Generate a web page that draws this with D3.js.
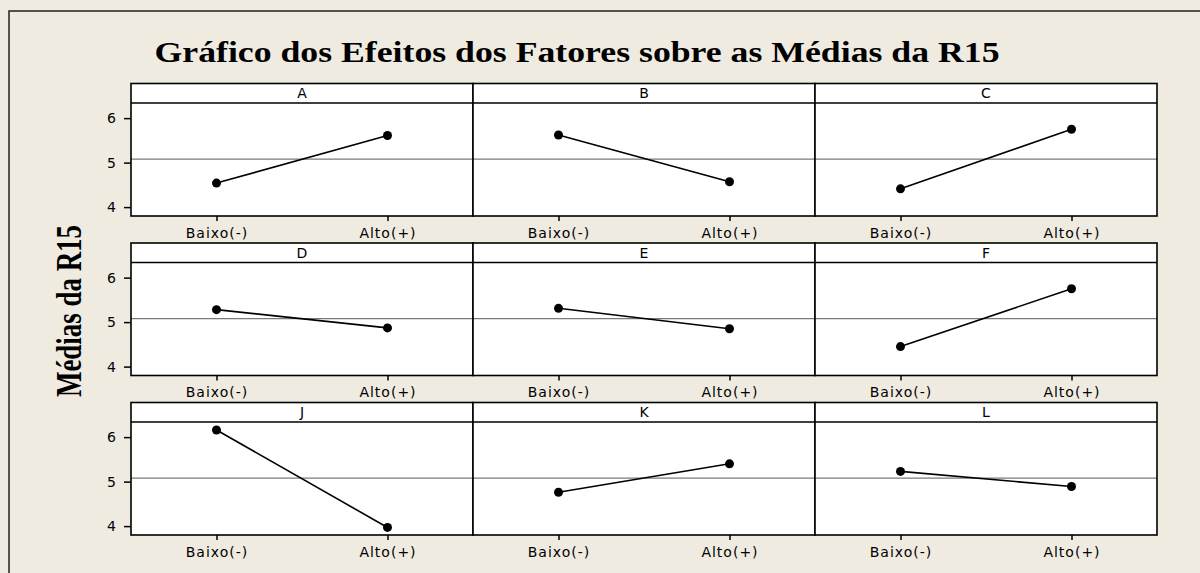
<!DOCTYPE html>
<html>
<head>
<meta charset="utf-8">
<script src="https://cdn.jsdelivr.net/npm/d3@7"></script>
<style>
  body { margin: 0; background: #efebe1; }
  #vis { width: 1200px; height: 573px; }
</style>
</head>
<body>
<div id="vis"></div>
<script>
var factors = ['A', 'B', 'C', 'D', 'E', 'F', 'J', 'K', 'L'];
var levels = ['Baixo(-)', 'Alto(+)'];
var baixoMeans = [4.54, 5.62, 4.41, 5.28, 5.31, 4.45, 6.16, 4.76, 5.23];
var altoMeans = [5.61, 4.57, 5.75, 4.87, 4.85, 5.75, 3.97, 5.40, 4.89];
var yTicks = [4, 5, 6];

var width = 1200,
  height = 573;

var svg = d3.select('#vis')
  .append('svg')
  .attr('width', width)
  .attr('height', height);

// outer frame (only left and top edges show)
svg.append('rect')
  .attr('x', 9)
  .attr('y', 11)
  .attr('width', 1300)
  .attr('height', 700)
  .attr('fill', '#efebe1')
  .attr('stroke', '#222')
  .attr('stroke-width', 1.5);

svg.append('text')
  .text('Gráfico dos Efeitos dos Fatores sobre as Médias da R15')
  .attr('x', 577)
  .attr('y', 62)
  .attr('text-anchor', 'middle')
  .attr('textLength', 845)
  .attr('lengthAdjust', 'spacingAndGlyphs')
  .style('font-family', '"Liberation Serif", "Times New Roman", serif')
  .style('font-weight', 'bold')
  .style('font-size', '30px');

svg.append('text')
  .text('Médias da R15')
  .attr('transform', 'translate(81,311)rotate(-90)')
  .attr('text-anchor', 'middle')
  .attr('textLength', 172)
  .attr('lengthAdjust', 'spacingAndGlyphs')
  .style('font-family', '"Liberation Serif", "Times New Roman", serif')
  .style('font-weight', 'bold')
  .style('font-size', '35px');

var panelLeft = 131,
  panelW = 342,
  panelTop = 83.5,
  rowStep = 159.5,
  panelH = 132.5,
  stripH = 19.5;

var x_scale = d3.scalePoint()
  .domain(levels)
  .range([0, panelW])
  .padding(0.5);

var y_scale = d3.scaleLinear()
  .domain([3.80, 6.34])
  .range([panelH, stripH]);

var grandMean = d3.mean(baixoMeans.concat(altoMeans));

var font = '"DejaVu Sans", Verdana, sans-serif';

factors.forEach(function(f, i) {
  var col = i % 3,
    row = Math.floor(i / 3);
  var g = svg.append('g')
    .attr('transform', 'translate(' + (panelLeft + col * panelW) + ',' + (panelTop + row * rowStep) + ')');

  g.append('rect')
    .attr('width', panelW)
    .attr('height', panelH)
    .attr('fill', '#fff');

  g.append('line')
    .attr('x1', 0)
    .attr('x2', panelW)
    .attr('y1', y_scale(grandMean))
    .attr('y2', y_scale(grandMean))
    .attr('stroke', '#7a7a7a')
    .attr('stroke-width', 1.2);

  var pts = [
    { level: levels[0], value: baixoMeans[i] },
    { level: levels[1], value: altoMeans[i] }
  ];

  g.append('path')
    .datum(pts)
    .attr('fill', 'none')
    .attr('stroke', '#000')
    .attr('stroke-width', 1.6)
    .attr('d', d3.line()
      .x(function(d) { return x_scale(d.level); })
      .y(function(d) { return y_scale(d.value); }));

  g.selectAll('.dot')
    .data(pts)
    .enter()
    .append('circle')
    .attr('class', 'dot')
    .attr('cx', function(d) { return x_scale(d.level); })
    .attr('cy', function(d) { return y_scale(d.value); })
    .attr('r', 4.5)
    .attr('fill', '#000');

  // strip
  g.append('line')
    .attr('x1', 0)
    .attr('x2', panelW)
    .attr('y1', stripH)
    .attr('y2', stripH)
    .attr('stroke', '#000')
    .attr('stroke-width', 1.5);

  g.append('text')
    .text(f)
    .attr('x', panelW / 2)
    .attr('y', stripH / 2 + 5)
    .attr('text-anchor', 'middle')
    .attr('fill', '#000')
    .style('font-family', font)
    .style('font-size', '14px');

  g.append('rect')
    .attr('width', panelW)
    .attr('height', panelH)
    .attr('fill', 'none')
    .attr('stroke', '#000')
    .attr('stroke-width', 1.6);

  var xa = g.append('g')
    .attr('transform', 'translate(0,' + panelH + ')')
    .call(d3.axisBottom(x_scale).tickSize(5).tickPadding(7));
  xa.select('.domain').remove();
  xa.selectAll('line').attr('stroke', '#000').attr('stroke-width', 1.5);
  xa.selectAll('text')
    .attr('fill', '#000')
    .style('font-family', font)
    .style('font-size', '14px')
    .style('letter-spacing', '1px');

  if (col === 0) {
    var ya = g.append('g')
      .call(d3.axisLeft(y_scale).tickValues(yTicks).tickFormat(d3.format('d')).tickSize(7).tickPadding(8));
    ya.select('.domain').remove();
    ya.selectAll('line').attr('stroke', '#000').attr('stroke-width', 1.5);
    ya.selectAll('text')
      .attr('fill', '#000')
      .style('font-family', font)
      .style('font-size', '14px');
  }
});
</script>
</body>
</html>
